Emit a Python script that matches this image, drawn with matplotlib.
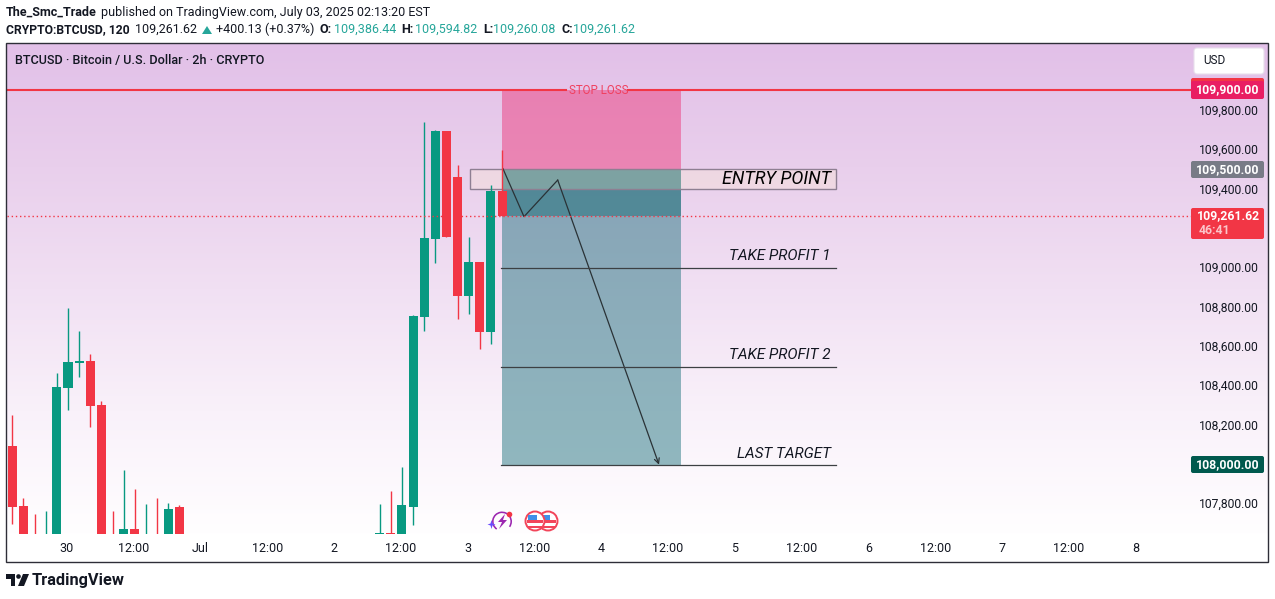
import numpy as np
import matplotlib.pyplot as plt
from matplotlib.colors import LinearSegmentedColormap
from matplotlib.patches import Rectangle, FancyBboxPatch, Circle, Polygon, Wedge
from matplotlib.transforms import ScaledTranslation

plt.rcParams['font.family'] = ['Roboto', 'DejaVu Sans']

W, H = 1275, 599
DARK = '#131722'
GREEN = '#089981'
RED = '#F23645'

# bars, index 0 is the "30" tick, 12 bars a day
bar_x = [-5, -4, -3, -2, -1, 0, 1, 2, 3, 4, 5, 6, 7, 8, 9, 10,
         28, 29, 30, 31, 32, 33, 34, 35, 36, 37, 38, 39]
opens = [108090, 107785, 107560, 107500, 107560, 108386, 108513, 108522, 108298, 107560, 107500, 107668, 107540, 107600, 107560, 107780,
         107500, 107645, 107600, 107780, 108746, 109142, 109692, 109458, 108853, 109025, 108669, 109386.44]
closes = [107781, 107560, 107500, 107560, 108390, 108517, 108522, 108293, 107560, 107500, 107668, 107600, 107600, 107540, 107770, 107560,
          107645, 107500, 107790, 108751, 109147, 109692, 109153, 108853, 109025, 108669, 109386, 109261.62]
highs = [108247, 107825, 107744, 107759, 108461, 108791, 108675, 108558, 108319, 107759, 107968, 107871, 107795, 107825, 107800, 107790,
         107795, 107861, 107983, 108756, 109737, 109697, 109692, 109519, 109153, 109025, 109417, 109594.82]
lows = [107693, 107400, 107400, 107400, 107450, 108273, 108441, 108186, 107400, 107400, 107400, 107400, 107400, 107400, 107400, 107400,
        107400, 107400, 107400, 107688, 108675, 109020, 109153, 108736, 108761, 108583, 108608, 109260.08]

day_ticks = [0, 6, 12, 18, 24, 30, 36, 42, 48, 54, 60, 66, 72, 78, 84, 90, 96]
day_labels = ['30', '12:00', 'Jul', '12:00', '2', '12:00', '3', '12:00', '4', '12:00',
              '5', '12:00', '6', '12:00', '7', '12:00', '8']
price_ticks = [109800, 109600, 109400, 109000, 108800, 108600, 108400, 108200, 107800]

stop_price = 109900
entry_price = 109500
last_price = 109261.62
tp1_price = 108995
tp2_price = 108490
target_price = 107995
box_top = 109500
box_bottom = 109398
path_x = [39.08, 40.97, 44.0, 53.1]
path_y = [109500, 109256, 109442, 107995]

# pixel geometry of the pane
px_per_bar = 11.13
px_per_usd = 0.19667
x_at = lambda px: (px - 68) / px_per_bar
y_at = lambda py: 109900 - (py - 90) / px_per_usd

fig = plt.figure(figsize=(W / 100, H / 100), dpi=100, facecolor='white')
ax = fig.add_axes([7 / W, 1 - 534 / H, (1268 - 7) / W, (534 - 44) / H])
ax.set_xlim(x_at(7), x_at(1268))
ax.set_ylim(y_at(534), y_at(44))

# background gradient
cmap = LinearSegmentedColormap.from_list('bg', ['#E2C0E8', '#E9CFEC', '#F1E0F3', '#F9F1FA', '#FFFEFF'])
ax.imshow(np.linspace(0, 1, 256).reshape(-1, 1), cmap=cmap, aspect='auto', zorder=0,
          extent=[*ax.get_xlim(), *ax.get_ylim()], origin='upper')

for s in ax.spines.values():
    s.set_visible(False)
ax.set_xticks(day_ticks, day_labels)
ax.tick_params(axis='x', length=0, pad=5.5, labelsize=9, labelcolor=DARK)
for lab in ax.get_xticklabels():
    lab.set_transform(lab.get_transform() + ScaledTranslation(-0.01, 0, fig.dpi_scale_trans))
ax.yaxis.tick_right()
ax.set_yticks(price_ticks, [f'{p:,.2f}' for p in price_ticks])
ax.tick_params(axis='y', length=0, pad=-50, labelsize=8.7, labelcolor=DARK)

# short position zones
x0, x1 = x_at(502), x_at(681)
ax.fill_between([x0, x1], entry_price, stop_price, color='#EC3C7D', alpha=0.5, lw=0, zorder=1)
ax.fill_between([x0, x1], target_price, entry_price, color='#267882', alpha=0.5, lw=0, zorder=1)
ax.fill_between([x0, x1], last_price, entry_price, color='#1E6E78', alpha=0.5, lw=0, zorder=1)

# entry box
ax.add_patch(Rectangle((x_at(470), box_bottom), x_at(836) - x_at(470), box_top - box_bottom,
                       facecolor=(1, 0.94, 0.78, 0.25), edgecolor='#8E7F92', lw=1, zorder=3))

# trade path
ax.plot(path_x[:3], path_y[:3], color='#2A3236', lw=0.9, zorder=3.5)
ax.annotate('', xy=(path_x[3], path_y[3]), xytext=(path_x[2], path_y[2]), zorder=3.5,
            arrowprops=dict(arrowstyle='->', color='#2A3236', lw=0.9, shrinkA=0, shrinkB=0, mutation_scale=9))

# candles
for i in range(len(bar_x)):
    c = GREEN if closes[i] >= opens[i] else RED
    ax.vlines(bar_x[i], lows[i], highs[i], color=c, lw=1.0, zorder=4)
    ax.bar(bar_x[i], abs(closes[i] - opens[i]), bottom=min(opens[i], closes[i]),
           width=0.81, color=c, lw=0, zorder=4)

# stop and last price lines
ax.plot([x_at(7), x_at(566)], [stop_price, stop_price], color=RED, lw=1.5, zorder=5)
ax.plot([x_at(628), x_at(1191)], [stop_price, stop_price], color=RED, lw=1.5, zorder=5)
ax.text(x_at(599), stop_price, 'STOP LOSS', color='#F0405F', fontsize=8.3, ha='center', va='center', zorder=5)
ax.plot([x_at(7), x_at(1191)], [last_price, last_price], color=RED, lw=1, ls=(0, (1, 2)), zorder=5)

# take profit lines
for price, gap, label in [(tp1_price, 63, 'TAKE PROFIT 1'), (tp2_price, 63, 'TAKE PROFIT 2'), (target_price, 56, 'LAST TARGET')]:
    ax.plot([x_at(501), x_at(836)], [price, price], color='#3C4043', lw=0.9, zorder=5)
    ax.text(x_at(831), price + gap, label, style='italic', color=DARK, fontsize=11,
            ha='right', va='center', zorder=6)
ax.text(x_at(831), (box_top + box_bottom) / 2 - 4, 'ENTRY POINT', style='italic', color='black', fontsize=13,
        ha='right', va='center', zorder=6)

# everything below is drawn in pixel coords
ov = fig.add_axes([0, 0, 1, 1], facecolor='none')
ov.set_xlim(0, W)
ov.set_ylim(H, 0)
ov.axis('off')
ov.add_patch(Rectangle((6, 43), 1262, 519, fill=False, edgecolor='#2E2E38', lw=1))

def tag(x0, y0, x1, y1, color):
    ov.add_patch(FancyBboxPatch((x0 + 1, y0 + 1), x1 - x0 - 2, y1 - y0 - 2, boxstyle='round,pad=1,rounding_size=2',
                                facecolor=color, edgecolor='none'))

tag(1191, 78, 1264, 90, RED)
tag(1191, 81, 1264, 99, '#E91E63')
ov.text(1228, 90, '109,900.00', color='white', fontsize=8.8, fontweight='bold', ha='center', va='center')
tag(1191, 161, 1264, 178, '#787B86')
ov.text(1228, 169.5, '109,500.00', color='white', fontsize=8.8, fontweight='bold', ha='center', va='center')
tag(1191, 208, 1264, 239, RED)
ov.text(1228, 216, '109,261.62', color='white', fontsize=8.8, fontweight='bold', ha='center', va='center')
ov.text(1199, 230.5, '46:41', color='#FBC4C9', fontsize=8.8, fontweight='bold', ha='left', va='center')
tag(1191, 456, 1264, 473, '#00594E')
ov.text(1228, 464.5, '108,000.00', color='white', fontsize=8.8, fontweight='bold', ha='center', va='center')
ov.add_patch(FancyBboxPatch((1196, 50), 66, 22, boxstyle='round,pad=2,rounding_size=3',
                            facecolor='white', edgecolor='#E8E0EC', lw=0.8))
ov.text(1203, 61, 'USD', color=DARK, fontsize=8.5, ha='left', va='center')

# header
ov.text(6, 12.5, 'The_Smc_Trade', color=DARK, fontsize=9, fontweight='bold', va='center')
ov.text(101, 12.5, 'published on TradingView.com, July 03, 2025 02:13:20 EST', color=DARK, fontsize=9, va='center')
ov.text(6, 29.5, 'CRYPTO:BTCUSD, 120', color=DARK, fontsize=8.7, fontweight='bold', va='center')
ov.text(135.5, 29.5, '109,261.62', color=DARK, fontsize=9, va='center')
ov.add_patch(Polygon([(202, 34), (212, 34), (207, 26)], facecolor='#26A69A', edgecolor='none'))
ov.text(216, 29.5, '+400.13 (+0.37%)', color=DARK, fontsize=9, va='center')
for lx, name, vx, val in [(319, 'O:', 334, '109,386.44'), (401, 'H:', 415, '109,594.82'),
                          (483, 'L:', 493, '109,260.08'), (561, 'C:', 573, '109,261.62')]:
    ov.text(lx, 29.5, name, color=DARK, fontsize=9, fontweight='bold', va='center')
    ov.text(vx, 29.5, val, color='#26A69A', fontsize=9, va='center')
ov.text(15, 60.5, 'BTCUSD · Bitcoin / U.S. Dollar · 2h · CRYPTO', color=DARK, fontsize=9.1, fontweight='medium', va='center')

# event icons
ov.add_patch(Wedge((502, 521.5), 10, 125, 35, width=1.6, facecolor='#9C27B0', edgecolor='none'))
ov.add_patch(Polygon([(505, 514), (498, 522), (502, 522), (499, 529), (507, 520), (503, 520)], facecolor='#9C27B0'))
ov.add_patch(Circle((509.5, 514.5), 2.8, facecolor=RED, edgecolor='none'))
ov.add_patch(Polygon([(487.5, 524.5), (490.5, 523.5), (491.5, 520), (492.5, 523.5), (495.5, 524.5), (492.5, 525.5), (491.5, 529), (490.5, 525.5)],
                     facecolor='#6A4DFF', edgecolor='none'))
for cx in [548, 535]:
    ov.add_patch(Circle((cx, 521), 9.5, facecolor='white', edgecolor='#F2455A', lw=1.4))
    ov.add_patch(Rectangle((cx - 8, 520), 16, 3, facecolor='#F2455A', edgecolor='none'))
    ov.add_patch(Rectangle((cx - 7, 526), 14, 2, facecolor='#F2455A', edgecolor='none'))
    ov.add_patch(Rectangle((cx - 7, 514.5), 8.5, 5.5, facecolor='#3F8FE8', edgecolor='none'))

# logo
ov.add_patch(Polygon([(6, 574), (15, 574), (15, 586), (10.5, 586), (10.5, 578.5), (6, 578.5)], facecolor=DARK))
ov.add_patch(Circle((18.5, 576.5), 2.3, facecolor=DARK))
ov.add_patch(Polygon([(23, 574), (29, 574), (24, 586), (18, 586)], facecolor=DARK))
ov.text(32, 580.5, 'TradingView', color=DARK, fontsize=11.8, fontweight='bold', va='center')

fig.savefig('out.png', dpi=100)
